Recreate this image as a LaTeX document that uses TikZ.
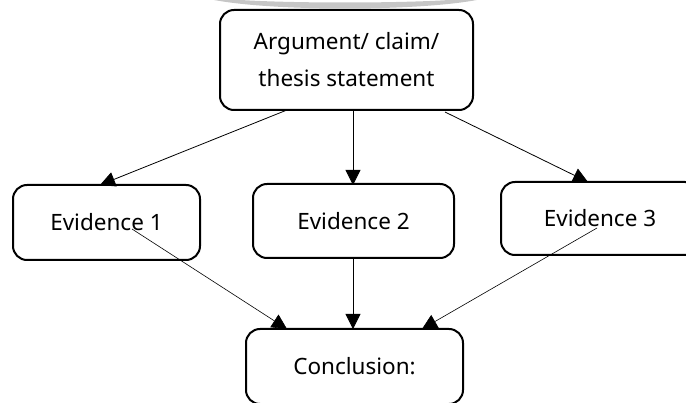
\documentclass[tikz,border=0pt]{standalone}
\usepackage{fontspec}
\setmainfont{Noto Sans}
\usetikzlibrary{arrows.meta}
\begin{document}
\begin{tikzpicture}[x=1pt,y=1pt,
  box/.style={draw, line width=2pt, rounded corners=14pt, inner sep=0pt, font=\fontsize{22.5}{37}\selectfont},
  conn/.style={line width=0.8pt, -{Triangle[length=15pt,width=15pt]}},
  link/.style={line width=0.6pt, -{Triangle[length=15pt,width=15pt]}}]
\useasboundingbox (0,0) rectangle (686,402);
\clip (0,0) rectangle (686,402);
\fill[gray!45] (205,404) .. controls (260,390) and (430,390) .. (486,404) -- (470,404) .. controls (430,398) and (260,398) .. (220,404) -- cycle;
\node[box, minimum width=253pt, minimum height=100pt, align=center] (top) at (346.5,342) {Argument/ claim/\\thesis statement};
\node[box, minimum width=187pt, minimum height=75pt] (e1) at (106.5,179.5) {Evidence 1};
\node[box, minimum width=201pt, minimum height=74pt] (e2) at (353.5,181) {Evidence 2};
\node[box, minimum width=198pt, minimum height=73pt] (e3) at (600,183.5) {Evidence 3};
\node[box, minimum width=217pt, minimum height=75pt] (c) at (354.5,35.5) {Conclusion:};
\coordinate (t1) at (287,292);
\coordinate (t2) at (353,292);
\coordinate (t3) at (445,290);
\coordinate (a1) at (100,217);
\coordinate (a2) at (353,217);
\coordinate (a3) at (588,220);
\coordinate (s1) at (132,173);
\coordinate (s2) at (353,144);
\coordinate (s3) at (597,174);
\coordinate (c1) at (287,73);
\coordinate (c2) at (353,73);
\coordinate (c3) at (422,73);
\draw[conn] (t1) -- (a1);
\draw[conn] (t2) -- (a2);
\draw[conn] (t3) -- (a3);
\draw[link] (s1) -- (c1);
\draw[conn] (s2) -- (c2);
\draw[link] (s3) -- (c3);
\end{tikzpicture}
\end{document}
